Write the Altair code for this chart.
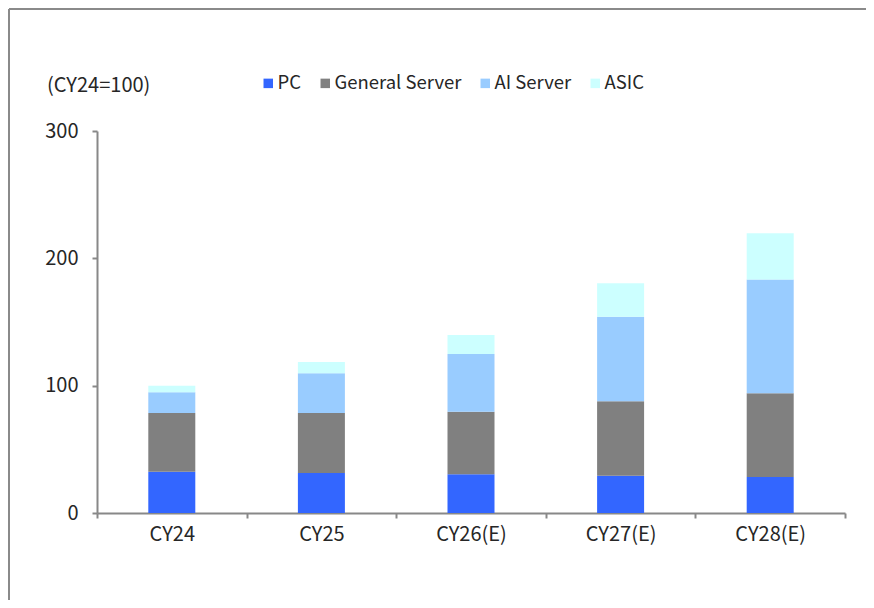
import altair as alt
import pandas as pd

years = ["CY24", "CY25", "CY26(E)", "CY27(E)", "CY28(E)"]
series = ["PC", "General Server", "AI Server", "ASIC"]
pc = [32.4, 31.4, 30.4, 29.3, 28.3]
general_server = [46.1, 47.1, 49.2, 58.4, 65.7]
ai_server = [16.3, 31.2, 45.3, 66.5, 89.3]
asic = [5.2, 8.9, 14.9, 26.2, 36.4]
colors = ["#3366FF", "#808080", "#99CCFF", "#CCFFFF"]
y_ticks = [0, 100, 200, 300]
unit_note = "(CY24=100)"

rows = []
for i, yr in enumerate(years):
    for j, (s, vals) in enumerate(zip(series, [pc, general_server, ai_server, asic])):
        rows.append({"year": yr, "series": s, "value": vals[i], "order": j})
df = pd.DataFrame(rows)

FONT = "Noto Sans CJK KR"
TXT = "#262626"
AXC = "#888888"

bars = alt.Chart(df).mark_bar(size=47).encode(
    x=alt.X("year:N", sort=years, title=None,
            scale=alt.Scale(paddingInner=0, paddingOuter=0),
            axis=alt.Axis(labelAngle=0, tickBand="extent", tickSize=5, grid=False,
                          domainColor=AXC, tickColor=AXC, domainWidth=2, tickWidth=2,
                          labelFontSize=20, labelColor=TXT, labelPadding=6, labelFont=FONT)),
    y=alt.Y("value:Q", stack="zero", title=None,
            scale=alt.Scale(domain=[0, 300], nice=False),
            axis=alt.Axis(values=y_ticks, grid=False, tickSize=5,
                          domainColor=AXC, tickColor=AXC, domainWidth=2, tickWidth=2,
                          labelFontSize=20, labelColor=TXT, labelPadding=14, labelFont=FONT)),
    color=alt.Color("series:N", sort=series,
                    scale=alt.Scale(domain=series, range=colors),
                    legend=alt.Legend(title=None, orient="none", direction="horizontal",
                                      legendX=162, legendY=-57, symbolType="square",
                                      symbolSize=90, symbolStrokeWidth=0, labelFontSize=18.5,
                                      labelFont=FONT, labelColor=TXT, columnPadding=14,
                                      labelOffset=0)),
    order=alt.Order("order:Q"),
)

note = alt.Chart(pd.DataFrame({"t": [unit_note]})).mark_text(
    align="left", baseline="middle", fontSize=20, font=FONT, color=TXT
).encode(text="t:N", x=alt.value(-50), y=alt.value(-45))

frame_left = alt.Chart(pd.DataFrame({"a": [0]})).mark_rule(color="#8a8a8a", strokeWidth=2).encode(
    x=alt.value(-88), y=alt.value(-122), y2=alt.value(470))
frame_top = alt.Chart(pd.DataFrame({"a": [0]})).mark_rule(color="#8a8a8a", strokeWidth=2).encode(
    x=alt.value(-88), x2=alt.value(770), y=alt.value(-122))

chart = alt.layer(bars, note, frame_left, frame_top).properties(
    width=748, height=382,
    padding={"left": 89, "top": 123, "right": 21, "bottom": 87},
    autosize=alt.AutoSizeParams(type="none"),
    view=alt.ViewBackground(strokeWidth=0, stroke="transparent"),
).configure_view(stroke="transparent", strokeWidth=0).configure(background="white")

chart.save("out.html", embed_options={"renderer": "svg", "actions": False})
